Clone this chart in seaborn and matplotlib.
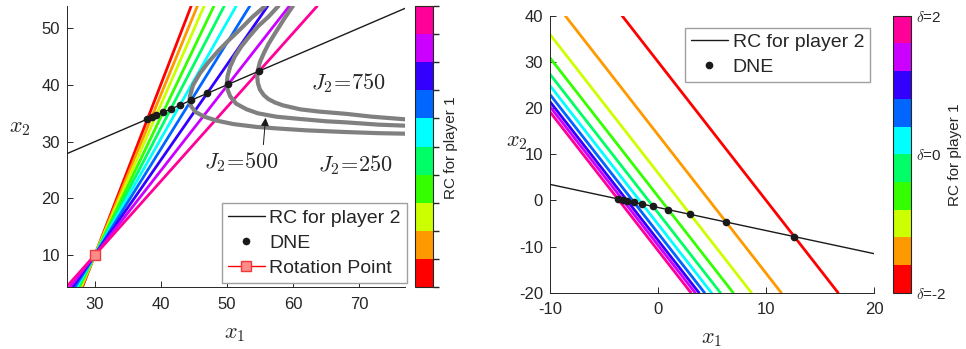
import numpy as np
import pandas as pd
import matplotlib
matplotlib.use('Agg')
import matplotlib as mpl
import matplotlib.pyplot as plt
import seaborn as sns

# ---- values ----
# colour order of the reaction curves of player 1: red -> pink (delta = -2 ... 2)
n_rc1 = 10
delta_range = [-2, 2]
delta_ticks = [-2, 0, 2]
delta_labels = [r'$\delta$=-2', r'$\delta$=0', r'$\delta$=2']

# left panel: rotated RCs of player 1 through the rotation point
rot_x1 = [30.0]
rot_x2 = [10.0]
rc2_left_slope = 0.5
rc2_left_icpt = 15.0
dne_left_x1 = [37.98, 38.6, 39.3, 40.35, 41.5, 42.9, 44.6, 47.0, 50.2, 54.9]
dne_left_x2 = [34.0, 34.3, 34.65, 35.18, 35.75, 36.45, 37.3, 38.5, 40.1, 42.45]

# level curves of J2
j2_levels = [250, 500, 750]
j250_x1 = [55.8, 53.9, 52.2, 50.4, 48.7, 47.2, 45.9, 44.9, 44.4, 44.35, 44.6, 45.3,
           46.6, 48.5, 51.0, 54.5, 58.0, 62.0, 68.0, 73.0, 77.5]
j250_x2 = [53.9, 52.0, 50.0, 48.0, 46.0, 44.0, 42.0, 40.0, 38.0, 37.2, 36.2, 35.2,
           34.4, 33.7, 33.1, 32.6, 32.3, 32.0, 31.7, 31.5, 31.4]
j500_x1 = [57.8, 56.3, 54.7, 53.3, 52.2, 51.2, 50.5, 50.1, 50.0, 50.1, 50.5, 51.4,
           53.0, 54.7, 57.5, 61.1, 65.0, 68.1, 73.0, 77.5]
j500_x2 = [53.9, 52.0, 50.3, 48.4, 46.8, 45.0, 43.2, 41.5, 40.2, 39.2, 38.0, 36.7,
           35.7, 35.0, 34.4, 34.0, 33.6, 33.4, 33.0, 32.8]
j750_x1 = [60.0, 58.6, 57.3, 56.3, 55.6, 55.0, 54.7, 54.6, 54.7, 55.0, 55.6, 56.3,
           57.3, 58.5, 61.1, 64.0, 68.1, 72.0, 77.5]
j750_x2 = [53.9, 51.5, 49.1, 47.2, 45.6, 44.0, 42.6, 41.5, 40.3, 39.2, 38.2, 37.5,
           36.9, 36.4, 35.7, 35.3, 34.9, 34.4, 33.9]

# right panel: shifted RCs of player 1 (parallel lines)
rc1_right_slope = -3.0
rc2_right_slope = -0.5
rc2_right_icpt = -1.54
dne_right_x1 = [12.62, 6.30, 2.99, 0.96, -0.46, -1.45, -2.22, -2.84, -3.27, -3.73]
dne_right_x2 = [-7.85, -4.69, -3.04, -2.02, -1.31, -0.82, -0.43, -0.12, 0.10, 0.33]

# ---- style ----
sns.set_theme(style='ticks')
plt.rcParams['font.family'] = ['Liberation Sans', 'DejaVu Sans']
plt.rcParams['mathtext.fontset'] = 'cm'
plt.rcParams['axes.unicode_minus'] = False
plt.rcParams['axes.edgecolor'] = '#262626'
plt.rcParams['axes.linewidth'] = 0.7

colors = sns.hls_palette(n_rc1, h=0, l=0.5, s=1)
cmap = mpl.colors.ListedColormap(colors)
norm = mpl.colors.BoundaryNorm(np.linspace(delta_range[0], delta_range[1], n_rc1 + 1), cmap.N)

fig = plt.figure(figsize=(9.66, 3.49), dpi=100)
axL = fig.add_axes([0.0694, 0.1777, 0.350, 0.805])
cbL = fig.add_axes([0.4296, 0.1777, 0.0186, 0.805])
axR = fig.add_axes([0.5694, 0.1613, 0.3354, 0.7937])
cbR = fig.add_axes([0.9244, 0.1613, 0.0186, 0.7937])

legend_kw = dict(fontsize=14, fancybox=False, edgecolor='#a0a0a0', framealpha=1,
                 handlelength=1.9, handletextpad=0.25, labelspacing=0.38,
                 borderpad=0.3, borderaxespad=0)

# ---- left panel ----
for i, c in enumerate(colors):
    axL.axline((rot_x1[0], rot_x2[0]), (dne_left_x1[i], dne_left_x2[i]),
               color=c, lw=2, zorder=2)

j2_df = pd.concat([
    pd.DataFrame({'x1': j250_x1, 'x2': j250_x2, 'J2': j2_levels[0]}),
    pd.DataFrame({'x1': j500_x1, 'x2': j500_x2, 'J2': j2_levels[1]}),
    pd.DataFrame({'x1': j750_x1, 'x2': j750_x2, 'J2': j2_levels[2]}),
])
sns.lineplot(data=j2_df, x='x1', y='x2', units='J2', estimator=None, sort=False,
             color='#808080', lw=3, legend=False, ax=axL, zorder=3)

axL.axline((0, rc2_left_icpt), slope=rc2_left_slope, color='k', lw=1,
           label='RC for player 2', zorder=4)
axL.plot(dne_left_x1, dne_left_x2, 'o', color='k', ms=4.5, ls='none',
         label='DNE', zorder=5)
axL.plot(rot_x1, rot_x2, marker='s', color='red', lw=1, mfc='#ff8a8a',
         mec='#ee3a3a', ms=7, label='Rotation Point', zorder=6)

axL.text(68.4, 40.3, r'$J_2\!=\!750$', fontsize=16, ha='center', va='center')
axL.text(52.2, 26.4, r'$J_2\!=\!500$', fontsize=16, ha='center', va='center')
axL.text(69.4, 25.8, r'$J_2\!=\!250$', fontsize=16, ha='center', va='center')
axL.annotate('', xy=(55.9, 34.7), xytext=(55.5, 29.0),
             arrowprops=dict(arrowstyle='-|>', color='k', lw=0.7, mutation_scale=12))

axL.set_xlim(25.8, 77.0)
axL.set_ylim(4.4, 53.9)
axL.set_xticks([30, 40, 50, 60, 70])
axL.set_yticks([10, 20, 30, 40, 50])
axL.set_xlabel(r'$x_1$', fontsize=16, va='center')
axL.set_ylabel(r'$x_2$', fontsize=16, rotation=0, ha='center', va='center')
axL.xaxis.set_label_coords(0.497, -0.165)
axL.yaxis.set_label_coords(-0.139, 0.566)
axL.legend(loc='lower right', bbox_to_anchor=(1.005, 0.015), **legend_kw)

cb1 = mpl.colorbar.ColorbarBase(cbL, cmap=cmap, norm=norm, orientation='vertical')
cb1.set_ticks([])
cb1.outline.set_edgecolor('#262626')
cb1.outline.set_linewidth(0.8)
fig.text(450.7 / 966, 1 - 147.5 / 349, 'RC for player 1', rotation=90,
         ha='center', va='center', fontsize=11, color='#262626')

# ---- right panel ----
for i, c in enumerate(colors):
    axR.axline((dne_right_x1[i], dne_right_x2[i]), slope=rc1_right_slope,
               color=c, lw=2, zorder=2)
axR.axline((0, rc2_right_icpt), slope=rc2_right_slope, color='k', lw=1,
           label='RC for player 2', zorder=4)
axR.plot(dne_right_x1, dne_right_x2, 'o', color='k', ms=4.5, ls='none',
         label='DNE', zorder=5)

axR.set_xlim(-10, 20)
axR.set_ylim(-20, 40)
axR.set_xticks([-10, 0, 10, 20])
axR.set_yticks([-20, -10, 0, 10, 20, 30, 40])
axR.set_xlabel(r'$x_1$', fontsize=16, va='center')
axR.set_ylabel(r'$x_2$', fontsize=16, rotation=0, ha='center', va='center')
axR.xaxis.set_label_coords(0.499, -0.165)
axR.yaxis.set_label_coords(-0.103, 0.545)
axR.legend(loc='upper right', bbox_to_anchor=(0.988, 0.957), **legend_kw)

cb2 = mpl.colorbar.ColorbarBase(cbR, cmap=cmap, norm=norm, orientation='vertical')
cb2.set_ticks(delta_ticks)
cb2.set_ticklabels(delta_labels)
cb2.minorticks_off()
cbR.tick_params(direction='in', length=3, width=0.7, labelsize=11, pad=4, colors='#262626')
cb2.outline.set_edgecolor('#262626')
cb2.outline.set_linewidth(0.8)
fig.text(955 / 966, 1 - 155 / 349, 'RC for player 1', rotation=90,
         ha='center', va='center', fontsize=11, color='#262626')

for ax in (axL, axR):
    sns.despine(ax=ax)
    ax.tick_params(direction='in', length=4, width=0.7, labelsize=12,
                   colors='#262626')
    ax.tick_params(axis='x', pad=7)
    ax.tick_params(axis='y', pad=5)
    ax.set_facecolor('white')

fig.savefig('out.png', dpi=100, facecolor='white')
